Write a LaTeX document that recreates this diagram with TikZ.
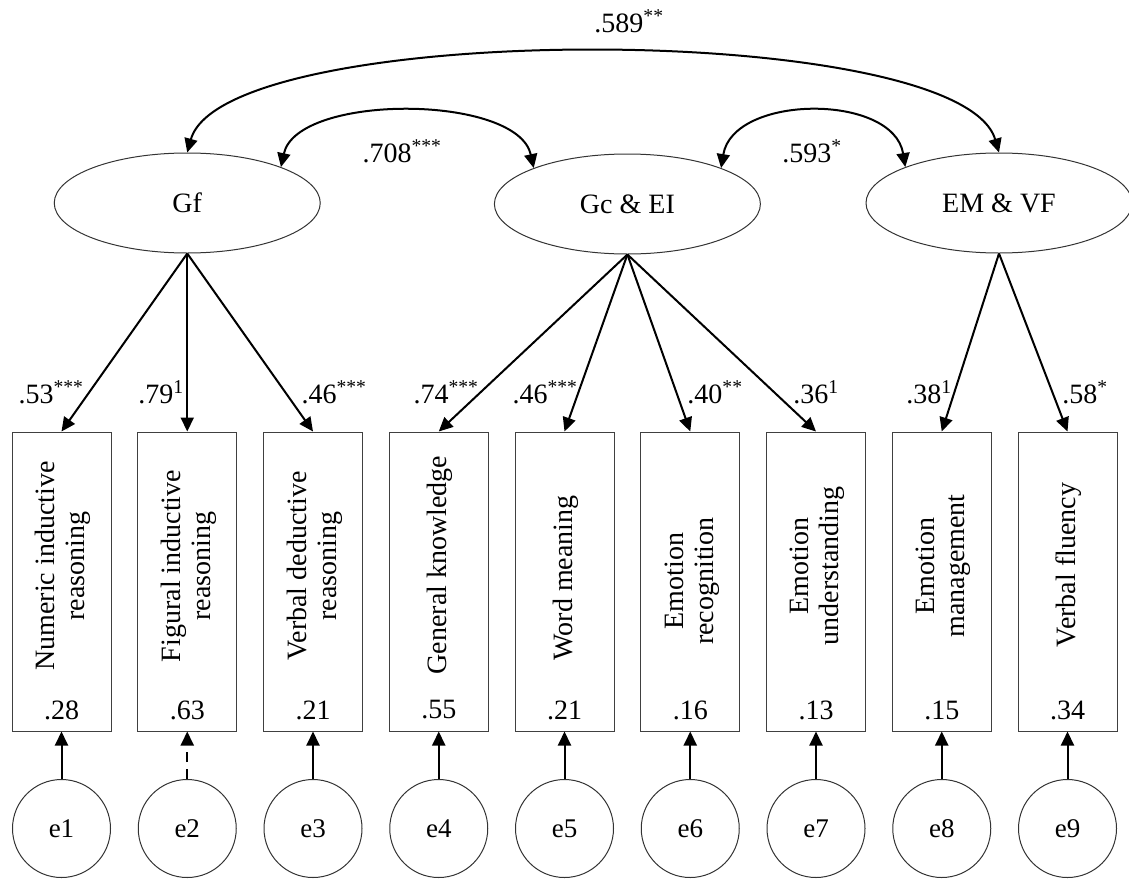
\documentclass[tikz,border=0pt]{standalone}
\usepackage{fontspec}
\setmainfont{Liberation Serif}
\usetikzlibrary{arrows.meta,shapes.geometric}
\begin{document}
\begin{tikzpicture}[x=1pt,y=-1pt,
  lat/.style={ellipse, draw=black!80, line width=1pt, minimum width=266pt, minimum height=100pt, inner sep=0pt, font=\fontsize{28}{32}\selectfont},
  obs/.style={rectangle, draw=black!75, line width=1pt, minimum width=99pt, minimum height=299pt, inner sep=0pt},
  err/.style={circle, draw=black!80, line width=1pt, minimum size=98pt, inner sep=0pt, font=\fontsize{27}{30}\selectfont},
  lbl/.style={font=\fontsize{28}{32}\selectfont, inner sep=0pt, anchor=base},
  vtxt/.style={rotate=90, align=center, font=\fontsize{28}{30}\selectfont, inner sep=0pt},
  num/.style={font=\fontsize{28}{32}\selectfont, inner sep=0pt},
  arr/.style={line width=2pt, -{Triangle[length=14pt,width=13pt]}},
  darr/.style={line width=2pt, {Triangle[length=14pt,width=13pt]}-{Triangle[length=14pt,width=13pt]}},
]
\useasboundingbox (0,0) rectangle (1129,878);

% latent factors
\node[lat] (Gf) at (187.25,203) {Gf};
\node[lat] (GcEI) at (627.4,204) {Gc \& EI};
\node[lat] (EMVF) at (999,203) {EM \& VF};

% observed variables and errors
\foreach \i/\x in {1/61.5,2/187.25,3/313,4/438.75,5/564.5,6/690.25,7/816,8/941.75,9/1067.5}{
  \node[obs] (b\i) at (\x,581.5) {};
  \node[err] (e\i) at (\x,828.5) {e\i};
}

% box texts
\node[vtxt] (t1) at (63,566) {Numeric inductive\\reasoning};
\node[vtxt] (t2) at (189,566) {Figural inductive\\reasoning};
\node[vtxt] (t3) at (315,566) {Verbal deductive\\reasoning};
\node[vtxt] (t4) at (440,565) {General knowledge};
\node[vtxt] (t5) at (566,578) {Word meaning};
\node[vtxt] (t6) at (692,581) {Emotion\\recognition};
\node[vtxt] (t7) at (817,566) {Emotion\\understanding};
\node[vtxt] (t8) at (943,566) {Emotion\\management};
\node[vtxt] (t9) at (1068.5,565) {Verbal fluency};

% R squared
\node[num] (r1) at (61.5,710) {.28};
\node[num] (r2) at (187.25,710) {.63};
\node[num] (r3) at (313,710) {.21};
\node[num] (r4) at (438.75,710) {.55};
\node[num] (r5) at (564.5,710) {.21};
\node[num] (r6) at (690.25,710) {.16};
\node[num] (r7) at (816,710) {.13};
\node[num] (r8) at (941.75,710) {.15};
\node[num] (r9) at (1067.5,710) {.34};

% loadings
\draw[arr] (Gf.south) -- (b1.north);
\draw[arr] (Gf.south) -- (b2.north);
\draw[arr] (Gf.south) -- (b3.north);
\draw[arr] (GcEI.south) -- (b4.north);
\draw[arr] (GcEI.south) -- (b5.north);
\draw[arr] (GcEI.south) -- (b6.north);
\draw[arr] (GcEI.south) -- (b7.north);
\draw[arr] (EMVF.south) -- (b8.north);
\draw[arr] (EMVF.south) -- (b9.north);

% loading labels
\node[lbl] (l1) at (51,403) {.53\textsuperscript{***}};
\node[lbl] (l2) at (161,403) {.79\textsuperscript{1}};
\node[lbl] (l3) at (334,403) {.46\textsuperscript{***}};
\node[lbl] (l4) at (446,403) {.74\textsuperscript{***}};
\node[lbl] (l5) at (545,403) {.46\textsuperscript{***}};
\node[lbl] (l6) at (715,403) {.40\textsuperscript{**}};
\node[lbl] (l7) at (816,403) {.36\textsuperscript{1}};
\node[lbl] (l8) at (929,403) {.38\textsuperscript{1}};
\node[lbl] (l9) at (1085,403) {.58\textsuperscript{*}};

% error arrows
\foreach \i in {1,3,4,5,6,7,8,9}{
  \draw[arr] (e\i.north) -- (b\i.south);
}
\draw[arr, dash pattern=on 10pt off 7pt] (e2.north) -- (b2.south);

% covariances
\draw[darr] (Gf.north) .. controls +(37,-133) and +(-39,-133) .. (EMVF.north);
\draw[darr] (Gf.21) .. controls +(16,-74) and +(-16,-74) .. (GcEI.159);
\draw[darr] (GcEI.21) .. controls +(12,-74) and +(-12,-74) .. (EMVF.159);

\node[lbl] (c1) at (629,32) {.589\textsuperscript{**}};
\node[lbl] (c2) at (402,162) {.708\textsuperscript{***}};
\node[lbl] (c3) at (812,162) {.593\textsuperscript{*}};
\end{tikzpicture}
\end{document}
